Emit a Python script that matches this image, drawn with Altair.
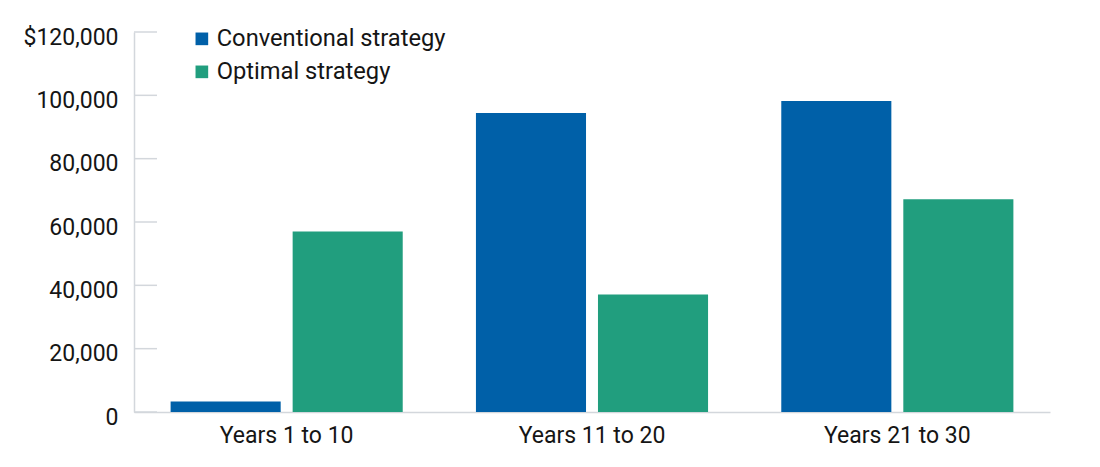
import altair as alt
import pandas as pd

periods = ["Years 1 to 10", "Years 11 to 20", "Years 21 to 30"]
strategies = ["Conventional strategy", "Optimal strategy"]
conventional = [3300, 94400, 98200]
optimal = [57000, 37100, 67200]
y_ticks = [0, 20000, 40000, 60000, 80000, 100000, 120000]
colors = ["#0060A8", "#219E7E"]

rows = []
for p, c, o in zip(periods, conventional, optimal):
    rows.append({"period": p, "strategy": strategies[0], "value": c})
    rows.append({"period": p, "strategy": strategies[1], "value": o})
df = pd.DataFrame(rows)
ticks_df = pd.DataFrame({"t": y_ticks})

FONT = "Roboto"
TXT = "#151515"
GRID = "#d3d7dc"

y_scale = alt.Scale(domain=[0, 120000], nice=False)

bars = alt.Chart(df).mark_bar().encode(
    x=alt.X("period:N", sort=periods, title=None,
            scale=alt.Scale(paddingInner=0, paddingOuter=0),
            axis=alt.Axis(labelAngle=0, ticks=False, domainColor=GRID, domainWidth=1.5,
                          labelFont=FONT, labelFontSize=23, labelColor=TXT, labelPadding=12)),
    xOffset=alt.XOffset("strategy:N", sort=strategies,
                        scale=alt.Scale(paddingInner=0.098, paddingOuter=0.3)),
    y=alt.Y("value:Q", scale=y_scale, title=None,
            axis=alt.Axis(values=y_ticks, grid=False, ticks=False, domainColor=GRID, domainWidth=1.5,
                          labelFont=FONT, labelFontSize=23, labelColor=TXT, labelPadding=16,
                          labelOffset=5,
                          labelExpr="datum.value == 120000 ? '$120,000' : format(datum.value, ',')")),
    color=alt.Color("strategy:N", sort=strategies,
                    scale=alt.Scale(domain=strategies, range=colors),
                    legend=alt.Legend(title=None, orient="none", legendX=56, legendY=-5,
                                      symbolType="square", symbolSize=160, symbolStrokeWidth=0,
                                      labelFont=FONT, labelFontSize=23.7, labelColor=TXT,
                                      labelLimit=0, labelOffset=3, rowPadding=8, padding=0)),
)

tick_rules = alt.Chart(ticks_df).mark_rule(color=GRID, strokeWidth=1.5).encode(
    x=alt.value(0), x2=alt.value(23),
    y=alt.Y("t:Q", scale=y_scale),
)

chart = alt.layer(tick_rules, bars).properties(
    width=916, height=380,
    autosize=alt.AutoSizeParams(type="none"),
    padding={"left": 126, "top": 24, "right": 40, "bottom": 50},
).configure_view(stroke=None)

chart.save("out.html", embed_options={"renderer": "svg", "actions": False})
